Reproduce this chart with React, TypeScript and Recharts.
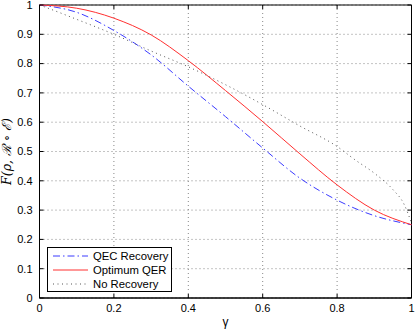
import { LineChart, Line, XAxis, YAxis, CartesianGrid, ReferenceArea } from 'recharts';

const gammaSteps = [0, 0.1, 0.2, 0.3, 0.4, 0.5, 0.6, 0.7, 0.8, 0.9, 1];
const qecRecovery = [1, 0.975, 0.913, 0.83, 0.723, 0.619, 0.512, 0.409, 0.334, 0.281, 0.25];
const optimumQer = [1, 0.989, 0.955, 0.898, 0.81, 0.708, 0.602, 0.492, 0.386, 0.3, 0.25];

const gammaNoRec = [0, 0.05, 0.1, 0.15, 0.2, 0.3, 0.4, 0.5, 0.6, 0.7, 0.8, 0.85, 0.9, 0.95, 0.98, 1];
const noRecovery = [1, 0.976, 0.951, 0.926, 0.9, 0.843, 0.789, 0.728, 0.66, 0.587, 0.517, 0.47, 0.426, 0.37, 0.32, 0.256];

const xTicks = [0, 0.2, 0.4, 0.6, 0.8, 1];
const yTicks = [0, 0.1, 0.2, 0.3, 0.4, 0.5, 0.6, 0.7, 0.8, 0.9, 1];

const qecData = gammaSteps.map((g, i) => ({ g, v: qecRecovery[i] }));
const optData = gammaSteps.map((g, i) => ({ g, v: optimumQer[i] }));
const noData = gammaNoRec.map((g, i) => ({ g, v: noRecovery[i] }));

const W = 415;
const H = 329;
const plot = { left: 39.5, right: 411.5, top: 5, bottom: 298 };
const font = '"Liberation Sans", Arial, sans-serif';
const TICK = 4;

const XTick = (props: any) => {
  const { x, y, payload } = props;
  return (
    <g>
      <line x1={x} x2={x} y1={plot.bottom} y2={plot.bottom - TICK} stroke="#000" />
      <line x1={x} x2={x} y1={plot.top} y2={plot.top + TICK} stroke="#000" />
      <text x={x} y={y} dy="0.75em" textAnchor="middle" fontSize={11} fontFamily={font} fill="#000">
        {String(payload.value)}
      </text>
    </g>
  );
};

const YTick = (props: any) => {
  const { x, y, payload } = props;
  return (
    <g>
      <line x1={plot.left} x2={plot.left + TICK} y1={y} y2={y} stroke="#000" />
      <line x1={plot.right} x2={plot.right - TICK} y1={y} y2={y} stroke="#000" />
      <text x={x} y={y} dy="0.35em" textAnchor="end" fontSize={11} fontFamily={font} fill="#000">
        {String(payload.value)}
      </text>
    </g>
  );
};

const legendItems = [
  { label: 'QEC Recovery', color: '#3b3bff', dash: '7 3 1.5 3' },
  { label: 'Optimum QER', color: '#ff3030', dash: undefined },
  { label: 'No Recovery', color: '#555', dash: '1 3.5' },
];

const LegendBox = () => (
  <div
    style={{
      position: 'absolute',
      left: 47,
      top: 247,
      width: 125,
      height: 45,
      border: '1px solid #000',
      background: '#fff',
      boxSizing: 'border-box',
      fontFamily: font,
      fontSize: 11.3,
      paddingTop: 1,
    }}
  >
    {legendItems.map((it) => (
      <div key={it.label} style={{ display: 'flex', alignItems: 'center', height: 14 }}>
        <svg width={45} height={14}>
          <line x1={5} x2={40} y1={7} y2={7} stroke={it.color} strokeWidth={1} strokeDasharray={it.dash} />
        </svg>
        <span style={{ color: '#000', lineHeight: '14px' }}>{it.label}</span>
      </div>
    ))}
  </div>
);

export default function App() {
  return (
    <div style={{ position: 'absolute', left: 0, top: 0, width: W, height: H, background: '#fff' }}>
      <LineChart
        width={W}
        height={H}
        margin={{ top: plot.top, right: W - plot.right, bottom: H - plot.bottom - 25, left: plot.left - 30 }}
      >
        <CartesianGrid stroke="#888" strokeDasharray="1 3" />
        <XAxis
          dataKey="g"
          type="number"
          domain={[0, 1]}
          ticks={xTicks}
          interval={0}
          allowDuplicatedCategory={false}
          height={25}
          tickSize={0}
          tickMargin={6}
          tick={<XTick />}
          axisLine={{ stroke: '#000' }}
          label={{ value: 'γ', position: 'insideBottom', offset: -3, fontSize: 12, fontFamily: font, fill: '#000' }}
        />
        <YAxis
          type="number"
          domain={[0, 1]}
          ticks={yTicks}
          interval={0}
          width={30}
          tickSize={0}
          tickMargin={7}
          tick={<YTick />}
          axisLine={{ stroke: '#000' }}
          label={{
            value: 'F(ρ, ℛ ∘ ℰ)',
            angle: -90,
            position: 'insideLeft',
            offset: -3,
            style: { textAnchor: 'middle' },
            fontSize: 12.5,
            fontStyle: 'italic',
            fontFamily: '"DejaVu Serif", serif',
            fill: '#000',
          }}
        />
        <ReferenceArea x1={0} x2={1} y1={0} y2={1} fill="none" stroke="#000" strokeWidth={1} />
        <Line data={qecData} dataKey="v" type="monotone" stroke="#3b3bff" strokeWidth={1} strokeDasharray="7 3 1.5 3" dot={false} isAnimationActive={false} />
        <Line data={optData} dataKey="v" type="monotone" stroke="#ff3030" strokeWidth={1} dot={false} isAnimationActive={false} />
        <Line data={noData} dataKey="v" type="monotone" stroke="#555" strokeWidth={1} strokeDasharray="1 3.5" dot={false} isAnimationActive={false} />
      </LineChart>
      <LegendBox />
    </div>
  );
}
